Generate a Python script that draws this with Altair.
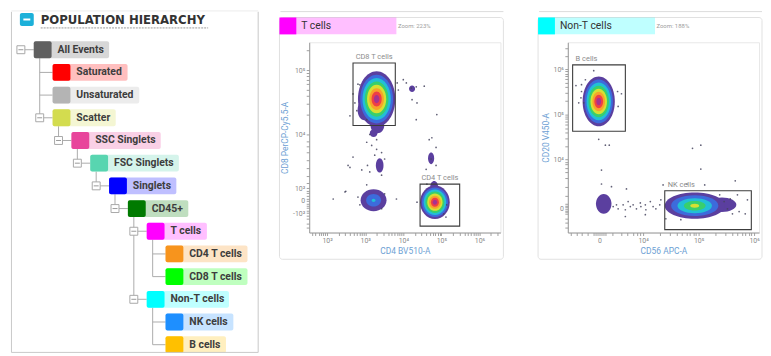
import math
import altair as alt
import pandas as pd

# ---------------- data ----------------
NODE_LABELS = ["All Events", "Saturated", "Unsaturated", "Scatter", "SSC Singlets",
               "FSC Singlets", "Singlets", "CD45+", "T cells", "CD4 T cells",
               "CD8 T cells", "Non-T cells", "NK cells", "B cells"]
NODE_DEPTHS = [0, 1, 1, 1, 2, 3, 4, 5, 6, 7, 7, 6, 7, 7]
NODE_COLORS = ["#606060", "#ff0000", "#b4b4b4", "#d3dc4f", "#e8459b", "#58d5b0",
               "#0000ff", "#007a00", "#ff00ff", "#f7941d", "#00ff00", "#00ffff",
               "#1e8fff", "#ffc000"]
HIERARCHY_TITLE = "POPULATION HIERARCHY"

PANEL_TITLES = ["T cells", "Non-T cells"]
PANEL_COLORS = ["#ff00ff", "#00ffff"]
PANEL_ZOOMS = ["Zoom: 223%", "Zoom: 188%"]
X_TITLES = ["CD4 BV510-A", "CD56 APC-A"]
Y_TITLES = ["CD8 PerCP-Cy5.5-A", "CD20 V450-A"]

# T cells plot (display units: decades, biexponential near zero)
T_X_DOMAIN = [1.53, 6.55]
T_Y_DOMAIN = [2.48, 5.43]
T_X_MAJOR = [2, 3, 4, 5, 6]
T_X_LABELS = ["10²", "10³", "10⁴", "10⁵", "10⁶"]
T_Y_MAJOR = [2.78, 2.97, 3.17, 4, 5]
T_Y_LABELS = ["-10²", "0", "10²", "10⁴", "10⁵"]
T_Y_MINOR = [2.55, 2.62, 2.70, 2.74, 2.82, 2.86, 2.90, 2.93, 3.01, 3.05, 3.09, 3.13,
             3.25, 3.36, 3.48, 3.60, 3.72, 3.82, 3.90]

T_BLOB_X = [3.30, 3.32, 2.98, 4.83, 4.81, 3.22, 3.38, 3.22, 4.23, 4.73]
T_BLOB_Y = [4.55, 4.14, 4.38, 2.95, 3.20, 2.98, 3.52, 4.02, 4.71, 3.63]
T_BLOB_SX = [0.49, 0.18, 0.18, 0.39, 0.10, 0.34, 0.10, 0.10, 0.08, 0.08]
T_BLOB_SY = [0.43, 0.12, 0.16, 0.26, 0.08, 0.17, 0.11, 0.06, 0.05, 0.09]
T_BLOB_LEVELS = [8, 1, 1, 8, 1, 3, 1, 1, 1, 1]

T_DOT_X = [2.81, 2.86, 2.68, 2.73, 2.60, 2.78, 3.04, 3.84, 3.87, 4.00, 4.08, 4.21, 4.34,
           4.23, 4.36, 4.55, 4.88, 4.34, 3.12, 3.30, 3.04, 3.17, 3.30, 3.25, 3.43, 3.06,
           2.91, 2.60, 3.51, 4.68, 4.75, 4.86, 4.73, 4.86, 4.60, 2.55, 2.68, 3.12, 3.43,
           3.04, 2.49, 2.16, 2.47, 2.81, 2.86, 3.43, 3.51, 3.82, 4.36, 4.62, 5.06, 5.12, 5.14]
T_DOT_Y = [4.78, 4.77, 4.63, 4.49, 4.29, 4.37, 4.23, 4.80, 4.69, 4.85, 4.80, 4.72, 4.74,
           4.54, 4.49, 4.75, 4.31, 4.23, 4.00, 3.92, 3.88, 3.83, 3.77, 3.68, 3.72, 3.52,
           3.45, 3.49, 3.62, 3.92, 3.95, 3.80, 3.62, 3.52, 3.46, 3.52, 3.65, 3.42, 3.37,
           3.22, 3.12, 3.00, 3.11, 3.03, 2.91, 2.85, 3.08, 3.00, 2.95, 3.23, 2.77, 2.72, 2.91]

T_GATE_NAMES = ["CD8 T cells", "CD4 T cells"]
T_GATE_X1 = [2.68, 4.44]
T_GATE_X2 = [3.79, 5.48]
T_GATE_Y1 = [4.14, 2.58]
T_GATE_Y2 = [5.11, 3.23]

# Non-T cells plot
R_X_DOMAIN = [2.643, 6.089]
R_Y_DOMAIN = [2.385, 6.60]
R_X_MAJOR = [3.214, 4, 5, 6]
R_X_LABELS = ["0", "10⁴", "10⁵", "10⁶"]
R_X_MINOR = [2.70, 2.80, 2.90, 3.00, 3.10, 3.14, 3.17, 3.25, 3.28, 3.32, 3.45, 3.60,
             3.72, 3.82, 3.90, 3.95]
R_Y_MAJOR = [2.91, 4, 5, 6]
R_Y_LABELS = ["0", "10⁴", "10⁵", "10⁶"]
R_Y_MINOR = [2.50, 2.60, 2.70, 2.80, 2.84, 2.87, 2.95, 2.98, 3.02, 3.20, 3.40, 3.60,
             3.72, 3.82, 3.90, 3.95]

R_BLOB_X = [3.20, 4.93, 5.42, 3.29]
R_BLOB_Y = [5.29, 2.98, 3.00, 3.02]
R_BLOB_SX = [0.29, 0.54, 0.26, 0.14]
R_BLOB_SY = [0.55, 0.29, 0.16, 0.22]
R_BLOB_LEVELS = [8, 5, 1, 1]

R_DOT_X = [3.11, 2.96, 2.89, 2.79, 2.89, 2.88, 2.93, 2.84, 3.54, 3.61, 3.55, 3.20, 3.32,
           3.39, 3.25, 4.89, 5.04, 5.04, 3.25, 3.43, 3.70, 4.36, 4.79, 5.11, 5.66, 3.46,
           3.52, 3.55, 3.64, 3.68, 3.73, 3.77, 3.82, 3.88, 3.95, 3.96, 4.04, 4.05, 4.13,
           4.18, 4.23, 4.30, 4.32, 3.68, 4.04, 4.41, 4.68, 5.52, 5.61, 5.73, 5.84, 5.46,
           5.57, 5.70, 5.38, 5.88]
R_DOT_Y = [5.97, 5.77, 5.66, 5.64, 5.51, 5.37, 5.26, 5.26, 5.51, 5.46, 5.18, 4.45, 4.32,
           4.32, 3.77, 4.25, 4.32, 3.79, 3.46, 3.40, 3.35, 3.44, 3.46, 3.44, 3.53, 2.96,
           3.00, 2.91, 3.00, 2.89, 3.07, 2.96, 3.00, 2.91, 3.04, 2.96, 3.00, 2.89, 3.07,
           2.96, 2.91, 3.00, 3.11, 2.74, 2.78, 2.69, 2.67, 2.91, 2.80, 2.85, 2.80, 3.07,
           3.13, 3.22, 3.22, 3.11]

R_GATE_NAMES = ["B cells", "NK cells"]
R_GATE_X1 = [2.73, 4.39]
R_GATE_X2 = [3.68, 5.95]
R_GATE_Y1 = [4.63, 2.45]
R_GATE_Y2 = [6.10, 3.31]

# ---------------- styling helpers ----------------
LEVEL_COLORS = ["#5b3f9f", "#3d6bdc", "#22bfd6", "#39cf6c", "#d6e033",
                "#f8a22a", "#ee4045", "#a8328f"]
FONT = "Roboto"
CHAR_W = {'A': .655, 'B': .63, 'C': .65, 'D': .63, 'E': .55, 'F': .54, 'K': .63,
          'N': .71, 'P': .63, 'S': .61, 'T': .61, 'U': .65, 'a': .54, 'c': .52,
          'd': .56, 'e': .53, 'g': .56, 'i': .25, 'l': .25, 'n': .56, 'o': .57,
          'r': .35, 's': .52, 't': .33, 'u': .56, 'v': .49, ' ': .25, '4': .56,
          '5': .56, '8': .56, '+': .55, '-': .28}


def text_width(s, size):
    return sum(CHAR_W.get(c, 0.55) for c in s) * size


def ellipse_path(a, b):
    k = 0.5523
    f = lambda v: f"{v:.4f}"
    return (f"M0,{f(-b)}C{f(k*a)},{f(-b)},{f(a)},{f(-k*b)},{f(a)},0"
            f"C{f(a)},{f(k*b)},{f(k*a)},{f(b)},0,{f(b)}"
            f"C{f(-k*a)},{f(b)},{f(-a)},{f(k*b)},{f(-a)},0"
            f"C{f(-a)},{f(-k*b)},{f(-k*a)},{f(-b)},0,{f(-b)}Z")


def label_expr(vals, labs):
    expr = "''"
    for v, l in reversed(list(zip(vals, labs))):
        expr = f"datum.value == {v} ? '{l}' : ({expr})"
    return expr


def log_ticks(lo, hi, decades):
    out = []
    for k in decades:
        for m in range(2, 10):
            v = round(k + math.log10(m), 4)
            if lo <= v <= hi:
                out.append(v)
    return out


# ---------------- hierarchy panel ----------------
DX, DY = 19.0, 22.9
TW, TH = 252, 313.5
TOP = 31.5          # space above the plot origin (aligned with scatter plot origins)
ROW0 = 7.5          # pixel offset of row 0 below the origin
parents = []
for i, d in enumerate(NODE_DEPTHS):
    p = None
    for j in range(i - 1, -1, -1):
        if NODE_DEPTHS[j] == d - 1:
            p = j
            break
    parents.append(p)

nodes = []
for i, (lab, d, col) in enumerate(zip(NODE_LABELS, NODE_DEPTHS, NODE_COLORS)):
    nodes.append(dict(label=lab, color=col, depth=d, row=i,
                      x0=d, x1=d + 18 / DX, y0=i - 8.5 / DY, y1=i + 8.5 / DY,
                      tx=d + 24 / DX, bx1=d + (24 + text_width(lab, 10.5) + 6) / DX,
                      hx0=d - 13 / DX, kids=(i in parents)))
ndf = pd.DataFrame(nodes)

vrows = []
for i in range(len(NODE_LABELS)):
    kids = [k for k, p in enumerate(parents) if p == i]
    if kids:
        vrows.append(dict(x=NODE_DEPTHS[i] + 1 - 13 / DX, y=i + 8.5 / DY, y2=max(kids)))
vdf = pd.DataFrame(vrows)
boxdf = ndf[ndf["kids"]]

txs = alt.Scale(domain=[-25 / DX, (TW - 25) / DX], nice=False, zero=False)
tys = alt.Scale(domain=[-ROW0 / DY, (TH - ROW0) / DY], nice=False, zero=False, reverse=True)
LINE = "#ababab"
BORDER = "#c8c8c8"

vlines = alt.Chart(vdf).mark_rule(color=LINE, strokeWidth=1).encode(
    x=alt.X("x:Q", scale=txs, axis=None), y=alt.Y("y:Q", scale=tys, axis=None), y2="y2:Q")
hlines = alt.Chart(ndf).mark_rule(color=LINE, strokeWidth=1).encode(
    x=alt.X("hx0:Q", scale=txs, axis=None), x2="x0:Q", y=alt.Y("row:Q", scale=tys, axis=None))
bars = alt.Chart(ndf).mark_rect(opacity=0.25, cornerRadius=2).encode(
    x=alt.X("x0:Q", scale=txs, axis=None), x2="bx1:Q",
    y=alt.Y("y0:Q", scale=tys, axis=None), y2="y1:Q", color=alt.Color("color:N", scale=None))
squares = alt.Chart(ndf).mark_rect(cornerRadius=2).encode(
    x=alt.X("x0:Q", scale=txs, axis=None), x2="x1:Q",
    y=alt.Y("y0:Q", scale=tys, axis=None), y2="y1:Q", color=alt.Color("color:N", scale=None))
boxes = alt.Chart(boxdf).mark_point(shape="square", size=64, filled=True, fill="white",
                                    stroke="#a8a8a8", strokeWidth=1, opacity=1).encode(
    x=alt.X("hx0:Q", scale=txs, axis=None), y=alt.Y("row:Q", scale=tys, axis=None))
minus = alt.Chart(boxdf).mark_point(shape="stroke", size=25, color="#9a9a9a",
                                    strokeWidth=1, opacity=1).encode(
    x=alt.X("hx0:Q", scale=txs, axis=None), y=alt.Y("row:Q", scale=tys, axis=None))
labels = alt.Chart(ndf).mark_text(align="left", baseline="middle", font=FONT,
                                  fontWeight="bold", fontSize=10.5, color="#3d3d3d").encode(
    x=alt.X("tx:Q", scale=txs, axis=None), y=alt.Y("row:Q", scale=tys, axis=None), text="label:N")

hdr = alt.Chart(pd.DataFrame({"t": [HIERARCHY_TITLE]}))
icon = hdr.mark_rect(color="#1cb0d9", cornerRadius=2).encode(
    x=alt.value(11), x2=alt.value(25), y=alt.value(2 - TOP), y2=alt.value(15 - TOP))
icon_minus = hdr.mark_rule(color="white", strokeWidth=2).encode(
    x=alt.value(14.5), x2=alt.value(21.5), y=alt.value(8.5 - TOP))
htitle = hdr.mark_text(align="left", baseline="middle", font="DejaVu Sans", fontWeight="bold",
                       fontSize=11.8, color="#333333").encode(
    x=alt.value(32), y=alt.value(9.5 - TOP), text="t:N")
hline = hdr.mark_rule(color="#9a9a9a", strokeDash=[2, 1]).encode(
    x=alt.value(32), x2=alt.value(201), y=alt.value(17 - TOP))
# panel frame: left, right and bottom edges (its top edge is masked, as it sits above the page)
frame = hdr.mark_rect(fillOpacity=0, stroke=BORDER, strokeWidth=1).encode(
    x=alt.value(2.5), x2=alt.value(251.5), y=alt.value(-TOP), y2=alt.value(TH - 0.5))
frame_mask = hdr.mark_rect(color="white").encode(
    x=alt.value(1.5), x2=alt.value(252.5), y=alt.value(-TOP - 0.5), y2=alt.value(-TOP + 0.6))

tree = alt.layer(vlines, hlines, bars, squares, boxes, minus, labels,
                 frame, frame_mask, icon, icon_minus, htitle, hline).properties(
    width=TW, height=TH, view=alt.ViewBackground(stroke="transparent"))


# ---------------- scatter panels ----------------
def scatter_panel(title, color, zoom, x_title, y_title, xdom, ydom, xmaj, xlab, xminor,
                  ymaj, ylab, yminor, bx, by, bsx, bsy, blev, dxs, dys,
                  gnames, gx1, gx2, gy1, gy2, label_align, label_dx):
    W, H = 193, 192
    ppx = W / (xdom[1] - xdom[0])
    ppy = H / (ydom[1] - ydom[0])

    xs = alt.Scale(domain=xdom, nice=False, zero=False)
    ys = alt.Scale(domain=ydom, nice=False, zero=False)
    common = dict(tickSize=3, tickColor="#a0a0a0", domainColor="#9a9a9a", labelColor="#8a8a8a",
                  labelFontSize=7, labelFont=FONT, labelPadding=1.5, titleColor="#6e9fd4",
                  titleFontSize=8.5, titleFont=FONT, titleFontWeight="normal", titlePadding=3,
                  labelOverlap=False, labelFlush=False, grid=False)
    xaxis = alt.Axis(title=x_title, values=sorted(xmaj + xminor),
                     labelExpr=label_expr(xmaj, xlab), **common)
    yaxis = alt.Axis(title=y_title, values=sorted(ymaj + yminor),
                     labelExpr=label_expr(ymaj, ylab), **common)

    # density blobs: one layer per population, smaller (single-level) ones first
    blob_layers = []
    for i in sorted(range(len(bx)), key=lambda j: blev[j]):
        hw, hh = bsx[i] * ppx, bsy[i] * ppy
        R = max(hw, hh)
        n = blev[i]
        rows = []
        for lv in range(n):
            f = 1.0 if n == 1 else 1 - lv * 0.85 / (n - 1)
            rows.append(dict(x=bx[i], y=by[i], level=lv,
                             color=LEVEL_COLORS[lv], size=(2 * R * f) ** 2))
        blob_layers.append(
            alt.Chart(pd.DataFrame(rows)).mark_point(
                shape=ellipse_path(hw / R, hh / R), filled=True, opacity=1, strokeWidth=0
            ).encode(
                x=alt.X("x:Q", scale=xs, axis=xaxis), y=alt.Y("y:Q", scale=ys, axis=yaxis),
                size=alt.Size("size:Q", scale=None), color=alt.Color("color:N", scale=None),
                order=alt.Order("level:Q")))

    ddf = pd.DataFrame({"x": dxs, "y": dys})
    gdf = pd.DataFrame({"name": gnames, "x1": gx1, "x2": gx2, "y1": gy1, "y2": gy2})
    gdf["lx"] = gdf["x1"] if label_align == "left" else (gdf["x1"] + gdf["x2"]) / 2

    one = alt.Chart(pd.DataFrame({"title": [title], "zoom": [zoom]}))
    card = one.mark_rect(fillOpacity=0, stroke="#e1e1e1", strokeWidth=1, cornerRadius=3).encode(
        x=alt.value(-30), x2=alt.value(196), y=alt.value(-25), y2=alt.value(219))
    topline = one.mark_rule(color="#dcdcdc").encode(
        x=alt.value(-29), x2=alt.value(196), y=alt.value(-31))
    hbar = one.mark_rect(color=color, opacity=0.25).encode(
        x=alt.value(-30), x2=alt.value(88), y=alt.value(-25), y2=alt.value(-8))
    hsq = one.mark_rect(color=color).encode(
        x=alt.value(-30), x2=alt.value(-13), y=alt.value(-25), y2=alt.value(-8))
    htxt = one.mark_text(align="left", baseline="middle", font=FONT, fontSize=10.5,
                         color="#333333").encode(x=alt.value(-8), y=alt.value(-16.5), text="title:N")
    hzoom = one.mark_text(align="left", baseline="middle", font=FONT, fontSize=6,
                          color="#a0a0a0").encode(x=alt.value(89.5), y=alt.value(-16.5), text="zoom:N")

    dots = alt.Chart(ddf).mark_circle(size=3, color="#45445e", opacity=0.85).encode(
        x=alt.X("x:Q", scale=xs, axis=xaxis), y=alt.Y("y:Q", scale=ys, axis=yaxis))
    gates = alt.Chart(gdf).mark_rect(fillOpacity=0, stroke="#3c3c3c", strokeWidth=1.1).encode(
        x=alt.X("x1:Q", scale=xs, axis=xaxis), x2="x2:Q",
        y=alt.Y("y1:Q", scale=ys, axis=yaxis), y2="y2:Q")
    glabels = alt.Chart(gdf).mark_text(align=label_align, baseline="bottom", dy=-2, dx=label_dx,
                                       font=FONT, fontSize=7.5, color="#8c8c8c").encode(
        x=alt.X("lx:Q", scale=xs, axis=xaxis), y=alt.Y("y2:Q", scale=ys, axis=yaxis),
        text="name:N")
    return alt.layer(card, topline, *blob_layers, dots, gates, glabels,
                     hbar, hsq, htxt, hzoom).properties(width=W, height=H)


tpanel = scatter_panel(PANEL_TITLES[0], PANEL_COLORS[0], PANEL_ZOOMS[0], X_TITLES[0], Y_TITLES[0],
                       T_X_DOMAIN, T_Y_DOMAIN, T_X_MAJOR, T_X_LABELS,
                       log_ticks(T_X_DOMAIN[0], T_X_DOMAIN[1], range(1, 7)),
                       T_Y_MAJOR, T_Y_LABELS,
                       T_Y_MINOR + log_ticks(T_Y_DOMAIN[0], T_Y_DOMAIN[1], [4, 5]),
                       T_BLOB_X, T_BLOB_Y, T_BLOB_SX, T_BLOB_SY, T_BLOB_LEVELS,
                       T_DOT_X, T_DOT_Y, T_GATE_NAMES, T_GATE_X1, T_GATE_X2,
                       T_GATE_Y1, T_GATE_Y2, "center", 0)
rpanel = scatter_panel(PANEL_TITLES[1], PANEL_COLORS[1], PANEL_ZOOMS[1], X_TITLES[1], Y_TITLES[1],
                       R_X_DOMAIN, R_Y_DOMAIN, R_X_MAJOR, R_X_LABELS,
                       R_X_MINOR + log_ticks(R_X_DOMAIN[0], R_X_DOMAIN[1], [4, 5]),
                       R_Y_MAJOR, R_Y_LABELS,
                       R_Y_MINOR + log_ticks(R_Y_DOMAIN[0], R_Y_DOMAIN[1], [4, 5, 6]),
                       R_BLOB_X, R_BLOB_Y, R_BLOB_SX, R_BLOB_SY, R_BLOB_LEVELS,
                       R_DOT_X, R_DOT_Y, R_GATE_NAMES, R_GATE_X1, R_GATE_X2,
                       R_GATE_Y1, R_GATE_Y2, "left", 3)

chart = alt.hconcat(tree, alt.hconcat(tpanel, rpanel, spacing=33), spacing=19).properties(
    padding=0
).configure(font=FONT).configure_view(stroke="#e8e8e8")

chart.save("out.html", embed_options={"renderer": "svg", "actions": False})
